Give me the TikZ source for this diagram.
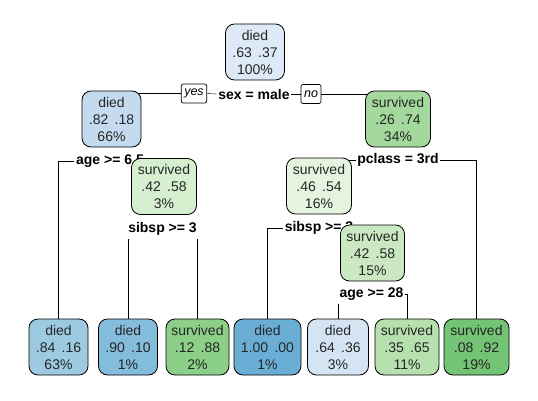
\documentclass[tikz,border=0pt]{standalone}
\usepackage{fontspec}
\setmainfont{Liberation Sans}
\usetikzlibrary{backgrounds}
\definecolor{cA}{HTML}{DDE9F6}
\definecolor{cB}{HTML}{C4DAEE}
\definecolor{cC}{HTML}{A3D99C}
\definecolor{cD}{HTML}{D6EFCF}
\definecolor{cE}{HTML}{E4F4DF}
\definecolor{cF}{HTML}{CAE9C2}
\definecolor{cL1}{HTML}{9DCAE1}
\definecolor{cL2}{HTML}{84BCDC}
\definecolor{cL3}{HTML}{8BCF88}
\definecolor{cL4}{HTML}{6AAED6}
\definecolor{cL5}{HTML}{D4E4F3}
\definecolor{cL6}{HTML}{B6E1AE}
\definecolor{cL7}{HTML}{74C476}
\tikzset{
  treebox/.style={draw=black, line width=0.8pt, rounded corners=9pt, minimum height=56pt,
    inner sep=0pt, align=center, font=\fontsize{14}{17}\selectfont, text=black!85},
  splitlab/.style={fill=white, inner xsep=1.5pt, inner ysep=3pt, font=\fontsize{14}{17}\selectfont\bfseries},
  yesno/.style={draw=black, line width=0.7pt, fill=white, rounded corners=2pt, inner xsep=3pt,
    minimum height=19pt, font=\fontsize{12.5}{14}\selectfont\itshape},
  conn/.style={line width=0.8pt}
}
\newcommand{\pp}[2]{#1\hspace{0.45em}#2}
\begin{document}
\begin{tikzpicture}[x=1pt,y=-1pt]
\useasboundingbox (0,0) rectangle (538,401);
% split labels
\node[splitlab] (s1) at (254,94) {sex = male};
\node[yesno] (yes) at (194,93.5) {yes};
\node[yesno] (no) at (311,94) {no};
\node[splitlab] (a1) at (110,161) {age >= 6.5};
\node[splitlab] (p1) at (398,160) {pclass = 3rd};
\node[splitlab] (b1) at (162.5,229) {sibsp >= 3};
\node[splitlab] (b2) at (319,228) {sibsp >= 3};
\node[splitlab] (a2) at (371.5,294) {age >= 28};
% boxes
\node[treebox, fill=cA, minimum width=59pt] (root) at (255,52) {died\\\pp{.63}{.37}\\100\%};
\node[treebox, fill=cB, minimum width=59pt] (n2) at (111.5,119) {died\\\pp{.82}{.18}\\66\%};
\node[treebox, fill=cC, minimum width=65pt] (n3) at (398,119) {survived\\\pp{.26}{.74}\\34\%};
\node[treebox, fill=cD, minimum width=65pt] (n4) at (164,186.5) {survived\\\pp{.42}{.58}\\3\%};
\node[treebox, fill=cE, minimum width=65pt] (n5) at (319,186) {survived\\\pp{.46}{.54}\\16\%};
\node[treebox, fill=cF, minimum width=64pt] (n6) at (372.5,253) {survived\\\pp{.42}{.58}\\15\%};
\node[treebox, fill=cL1, minimum width=59pt] (l1) at (58.5,347) {died\\\pp{.84}{.16}\\63\%};
\node[treebox, fill=cL2, minimum width=59pt] (l2) at (128,347) {died\\\pp{.90}{.10}\\1\%};
\node[treebox, fill=cL3, minimum width=63pt] (l3) at (197.5,347) {survived\\\pp{.12}{.88}\\2\%};
\node[treebox, fill=cL4, minimum width=67pt] (l4) at (267.5,347) {died\\\pp{1.00}{.00}\\1\%};
\node[treebox, fill=cL5, minimum width=61pt] (l5) at (338,347) {died\\\pp{.64}{.36}\\3\%};
\node[treebox, fill=cL6, minimum width=64pt] (l6) at (407,347) {survived\\\pp{.35}{.65}\\11\%};
\node[treebox, fill=cL7, minimum width=65pt] (l7) at (476.5,347) {survived\\\pp{.08}{.92}\\19\%};
% connectors
\begin{scope}[on background layer, conn]
\draw (n2) |- (yes.west);
\draw (yes.east) -- (s1.west);
\draw (s1.east) -- (no.west);
\draw (no.east) -| (n3);
\draw (a1.west) -| (l1.north);
\draw (a1.east) -| (n4);
\draw (l2.north |- b1.south) -- (l2.north);
\draw (l3.north |- b1.south) -- (l3.north);
\draw (p1.west) -| (n5);
\draw (p1.east) -| (l7.north);
\draw (b2.west) -| (l4.north);
\draw (b2.east) -| (n6);
\draw (l5.north |- a2.south) -- (l5.north);
\draw (a2.east) -| (l6.north);
\end{scope}
\end{tikzpicture}
\end{document}
